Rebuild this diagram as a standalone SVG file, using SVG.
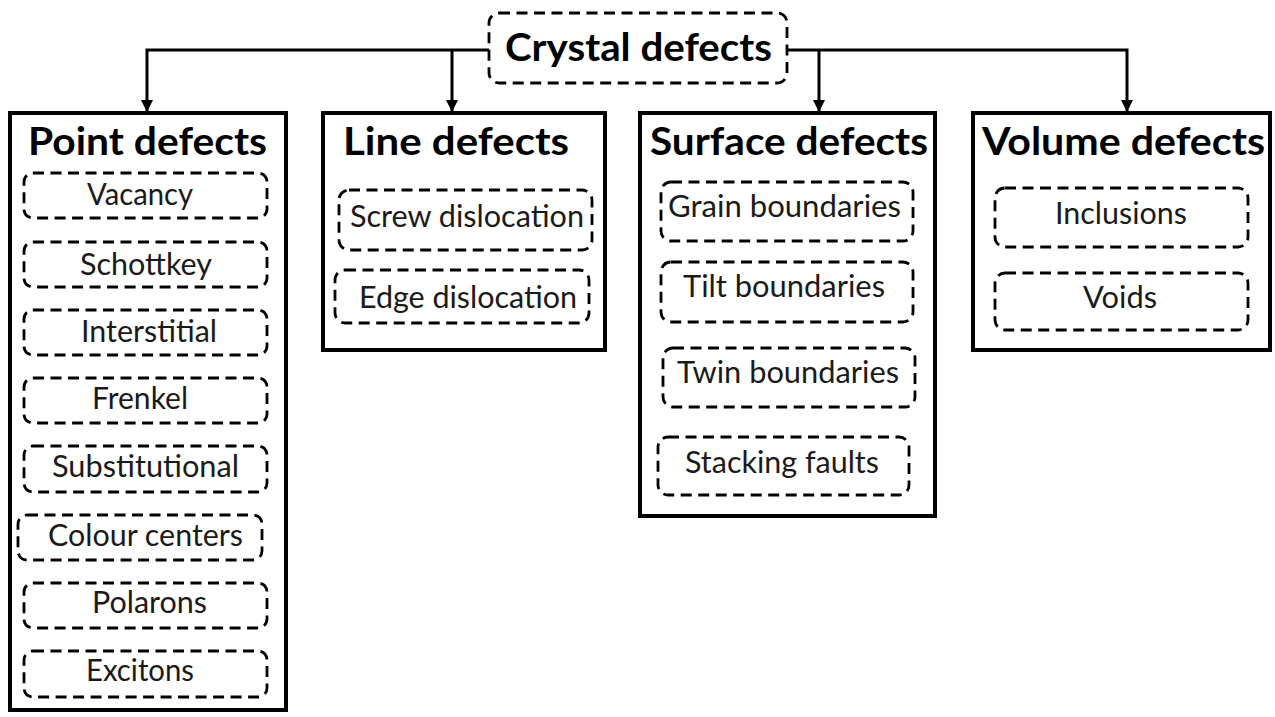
<svg xmlns="http://www.w3.org/2000/svg" width="1275" height="717" viewBox="0 0 1275 717">
<style>
.frame{fill:#fff;stroke:#000;stroke-width:4}
.dash{fill:#fff;stroke:#000;stroke-width:2.8;stroke-dasharray:11 6.5}
.title{font-family:Lato,"Open Sans","Liberation Sans",sans-serif;font-weight:bold;font-size:39px;fill:#000}
.item{font-family:Lato,"Open Sans","Liberation Sans",sans-serif;font-size:30px;fill:#1a1a1a}
.conn{fill:none;stroke:#000;stroke-width:3}
</style>
<defs>
<marker id="arr" viewBox="0 0 12 12" refX="12" refY="6" markerWidth="12" markerHeight="12" markerUnits="userSpaceOnUse" orient="auto">
<path d="M0,0 L12,6 L0,12 Z" fill="#000"/>
</marker>
</defs>
<rect width="1275" height="717" fill="#fff"/>
<g id="connectors">
<path class="conn" d="M490,50 H147 V112" marker-end="url(#arr)"/>
<path class="conn" d="M452,50 V112" marker-end="url(#arr)"/>
<path class="conn" d="M787,50 H1127 V112" marker-end="url(#arr)"/>
<path class="conn" d="M819,50 V112" marker-end="url(#arr)"/>
</g>
<g id="crystal">
<rect class="dash" x="489" y="13" width="298" height="70" rx="10"/>
<text class="title" x="505" y="61" textLength="267" lengthAdjust="spacingAndGlyphs">Crystal defects</text>
</g>
<g id="point">
<rect class="frame" x="10" y="113" width="276" height="597"/>
<text class="title" x="28" y="155" textLength="239" lengthAdjust="spacingAndGlyphs">Point defects</text>
<g id="vacancy"><rect class="dash" x="24" y="173" width="243" height="45" rx="9"/><text class="item" x="87" y="205" textLength="106" lengthAdjust="spacingAndGlyphs">Vacancy</text></g>
<g id="schottkey"><rect class="dash" x="24" y="242" width="243" height="45" rx="9"/><text class="item" x="80" y="275" textLength="132" lengthAdjust="spacingAndGlyphs">Schottkey</text></g>
<g id="interstitial"><rect class="dash" x="24" y="310" width="243" height="45" rx="9"/><text class="item" x="81" y="342" textLength="136" lengthAdjust="spacingAndGlyphs">Interstitial</text></g>
<g id="frenkel"><rect class="dash" x="24" y="378" width="243" height="45" rx="9"/><text class="item" x="92" y="409" textLength="96" lengthAdjust="spacingAndGlyphs">Frenkel</text></g>
<g id="substitutional"><rect class="dash" x="24" y="446" width="243" height="46" rx="9"/><text class="item" x="52" y="477" textLength="187" lengthAdjust="spacingAndGlyphs">Substitutional</text></g>
<g id="colour"><rect class="dash" x="18" y="515" width="244" height="45" rx="9"/><text class="item" x="48" y="546" textLength="195" lengthAdjust="spacingAndGlyphs">Colour centers</text></g>
<g id="polarons"><rect class="dash" x="24" y="583" width="243" height="45" rx="9"/><text class="item" x="92" y="613" textLength="115" lengthAdjust="spacingAndGlyphs">Polarons</text></g>
<g id="excitons"><rect class="dash" x="24" y="651" width="243" height="46" rx="9"/><text class="item" x="86" y="681" textLength="108" lengthAdjust="spacingAndGlyphs">Excitons</text></g>
</g>
<g id="line">
<rect class="frame" x="323" y="113" width="282" height="237"/>
<text class="title" x="343" y="155" textLength="226" lengthAdjust="spacingAndGlyphs">Line defects</text>
<g id="screw"><rect class="dash" x="339" y="190" width="253" height="60" rx="10"/><text class="item" x="350" y="227" textLength="234" lengthAdjust="spacingAndGlyphs">Screw dislocation</text></g>
<g id="edge"><rect class="dash" x="335" y="270" width="254" height="53" rx="10"/><text class="item" x="359" y="308" textLength="218" lengthAdjust="spacingAndGlyphs">Edge dislocation</text></g>
</g>
<g id="surface">
<rect class="frame" x="640" y="113" width="295" height="403"/>
<text class="title" x="650" y="155" textLength="278" lengthAdjust="spacingAndGlyphs">Surface defects</text>
<g id="grain"><rect class="dash" x="661" y="182" width="252" height="59" rx="10"/><text class="item" x="668" y="217" textLength="233" lengthAdjust="spacingAndGlyphs">Grain boundaries</text></g>
<g id="tilt"><rect class="dash" x="661" y="262" width="252" height="60" rx="10"/><text class="item" x="683" y="297" textLength="202" lengthAdjust="spacingAndGlyphs">Tilt boundaries</text></g>
<g id="twin"><rect class="dash" x="663" y="348" width="252" height="59" rx="10"/><text class="item" x="677" y="383" textLength="222" lengthAdjust="spacingAndGlyphs">Twin boundaries</text></g>
<g id="stacking"><rect class="dash" x="658" y="437" width="251" height="58" rx="10"/><text class="item" x="685" y="473" textLength="194" lengthAdjust="spacingAndGlyphs">Stacking faults</text></g>
</g>
<g id="volume">
<rect class="frame" x="973" y="113" width="297" height="237"/>
<text class="title" x="982" y="155" textLength="283" lengthAdjust="spacingAndGlyphs">Volume defects</text>
<g id="inclusions"><rect class="dash" x="995" y="188" width="253" height="59" rx="10"/><text class="item" x="1055" y="224" textLength="132" lengthAdjust="spacingAndGlyphs">Inclusions</text></g>
<g id="voids"><rect class="dash" x="995" y="273" width="253" height="57" rx="10"/><text class="item" x="1083" y="308" textLength="74" lengthAdjust="spacingAndGlyphs">Voids</text></g>
</g>
</svg>
